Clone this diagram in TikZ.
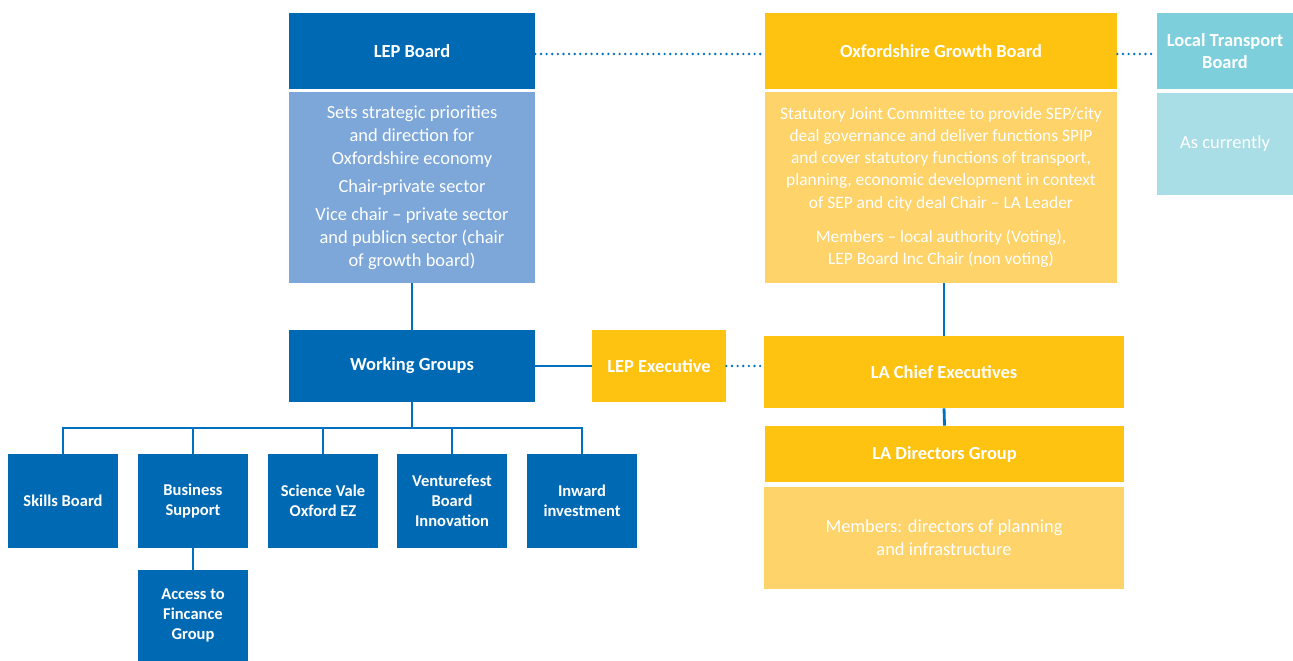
\documentclass[tikz,border=0pt]{standalone}
\usepackage{fontspec}
\setmainfont{Carlito}
\usetikzlibrary{positioning}

\definecolor{lepblue}{RGB}{0,105,180}
\definecolor{lepsoft}{RGB}{124,167,216}
\definecolor{gbyellow}{RGB}{254,194,16}
\definecolor{gbsoft}{RGB}{253,211,106}
\definecolor{ltteal}{RGB}{125,207,219}
\definecolor{ltsoft}{RGB}{169,222,231}
\definecolor{linkblue}{RGB}{0,112,192}

\begin{document}
\begin{tikzpicture}[x=0.02cm, y=-0.02cm,
    box/.style={inner sep=0pt, align=center, text=white},
    head/.style={box, font=\bfseries\fontsize{10.5}{12.5}\selectfont},
    desc/.style={box, font=\fontsize{10.5}{13}\selectfont},
    small/.style={box, fill=lepblue, minimum width=2.2cm, minimum height=1.88cm, font=\bfseries\fontsize{9.4}{11.5}\selectfont},
    link/.style={linkblue, line width=1.6pt},
    dots/.style={linkblue, line width=1.5pt, line cap=round, dash pattern=on 0pt off 3.2pt}]

    \useasboundingbox (0,0) rectangle (1293,661);

    % Draw the LEP column
    \node[head, fill=lepblue, minimum width=4.92cm, minimum height=1.52cm] (lep) at (412,51) {LEP Board};
    \node[desc, fill=lepsoft, minimum width=4.92cm, minimum height=3.82cm] (lepd) at (412,187.5) {Sets strategic priorities\\and direction for\\Oxfordshire economy\\[3pt]Chair-private sector\\[3pt]Vice chair -- private sector\\and publicn sector (chair\\of growth board)};

    % Draw the growth board column
    \node[head, fill=gbyellow, minimum width=7.04cm, minimum height=1.52cm] (ogb) at (941,51) {Oxfordshire Growth Board};
    \node[desc, fill=gbsoft, minimum width=7.04cm, minimum height=3.82cm, font=\fontsize{9.9}{12.6}\selectfont] (ogbd) at (941,187.5) {Statutory Joint Committee to provide SEP/city\\deal governance and deliver functions SPIP\\and cover statutory functions of transport,\\planning, economic development in context\\of SEP and city deal Chair -- LA Leader\\[7pt]Members -- local authority (Voting),\\LEP Board Inc Chair (non voting)};

    % Draw the transport board
    \node[head, fill=ltteal, minimum width=2.72cm, minimum height=1.52cm] (ltb) at (1225,51) {Local Transport\\Board};
    \node[desc, fill=ltsoft, minimum width=2.72cm, minimum height=2.04cm] (ltbd) at (1225,144) {As currently};

    % Draw the middle row
    \node[head, fill=lepblue, minimum width=4.92cm, minimum height=1.44cm] (wg) at (412,366) {Working Groups};
    \node[head, fill=gbyellow, minimum width=2.68cm, minimum height=1.44cm] (exec) at (659,366) {LEP Executive};
    \node[head, fill=gbyellow, minimum width=7.2cm, minimum height=1.44cm] (lace) at (944,372) {LA Chief Executives};
    \node[head, fill=gbyellow, minimum width=7.18cm, minimum height=1.12cm] (ladg) at (944.5,454) {LA Directors Group};
    \node[desc, fill=gbsoft, minimum width=7.2cm, minimum height=2.04cm] (ladgd) at (944,538) {Members: directors of planning\\and infrastructure};

    % Draw the working groups
    \node[small] (skills) at (63,501) {Skills Board};
    \node[small] (bus) at (193,501) {Business\\Support};
    \node[small] (sci) at (323,501) {Science Vale\\Oxford EZ};
    \node[small] (vent) at (452,501) {Venturefest\\Board\\Innovation};
    \node[small] (inw) at (582,501) {Inward\\investment};
    \node[small, minimum height=1.82cm] (fin) at (193,615.5) {Access to\\Fincance\\Group};

    % Solid links
    \draw[link] (lepd.south) -- (wg.north);
    \draw[link] (wg.east) -- (exec.west);
    \draw[link] (ogbd.south -| lace.north) -- (lace.north);
    \draw[link] (lace.south) -- (ladg.north);
    \draw[link] (bus.south) -- (fin.north);
    \coordinate (bus-y) at (412,428);
    \foreach \c in {skills,bus,sci,vent,inw}
        \draw[link] (wg.south) -- (bus-y) -| (\c.north);

    % Dotted links
    \draw[dots] ([yshift=-0.06cm]lep.east) -- ([yshift=-0.06cm]lep.east -| ogb.west);
    \draw[dots] ([yshift=-0.06cm]ogb.east) -- ([yshift=-0.06cm]ogb.east -| ltb.west);
    \draw[dots] (exec.east) -- (exec.east -| lace.west);

\end{tikzpicture}
\end{document}
